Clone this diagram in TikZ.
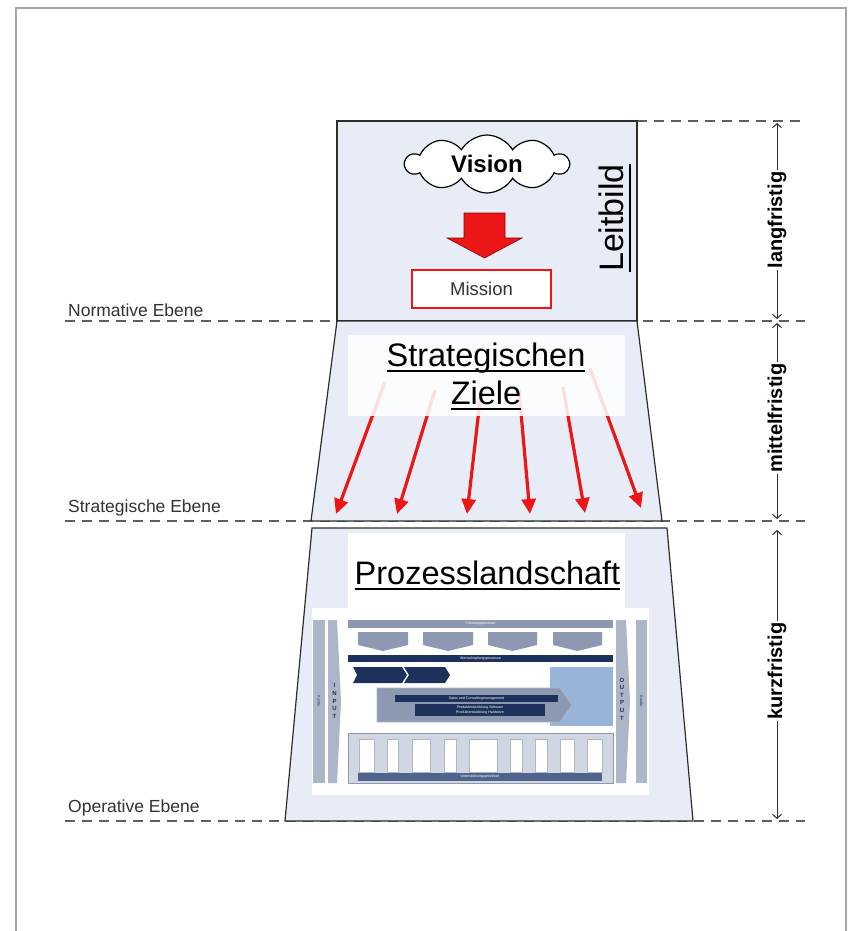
\documentclass[tikz,border=0pt]{standalone}
\usepackage{fontspec}
\setmainfont{Liberation Sans}
\usetikzlibrary{shapes.symbols,arrows.meta}

\definecolor{panel}{RGB}{232,236,246}
\definecolor{edge}{RGB}{45,45,45}
\definecolor{dashgray}{RGB}{95,95,95}
\definecolor{framegray}{RGB}{165,165,165}
\definecolor{txtgray}{RGB}{50,50,50}
\definecolor{arrowred}{RGB}{236,22,22}
\definecolor{plgray}{RGB}{172,182,200}
\definecolor{plgrayd}{RGB}{141,153,176}
\definecolor{plnavy}{RGB}{28,50,92}
\definecolor{plblue}{RGB}{152,180,216}
\definecolor{plsupport}{RGB}{208,214,226}
\definecolor{plbar}{RGB}{78,100,140}

% underline at a fixed distance below the baseline
\newcommand{\ulx}[2][3.5pt]{\setbox0\hbox{#2}\rlap{\vrule width\wd0 height -#1 depth \dimexpr#1+2pt\relax}\box0}

\tikzset{
  levelline/.style={dashgray, line width=1.8pt, dash pattern=on 10pt off 7pt},
  levelbox/.style={fill=panel, draw=edge, line width=1.2pt},
  levellabel/.style={anchor=base west, text=txtgray, font=\fontsize{17.5}{20}\selectfont, inner sep=0pt},
  termarrow/.style={draw=edge, line width=1pt, {Straight Barb[length=4pt,width=9pt]}-{Straight Barb[length=4pt,width=9pt]}},
  termlabel/.style={rotate=90, fill=white, inner sep=2pt, font=\fontsize{20}{24}\selectfont\bfseries},
  goalarrow/.style={arrowred, line width=3.2pt, -{Triangle[length=15pt,width=14pt]}},
  bigtitle/.style={anchor=base, inner sep=0pt, font=\fontsize{32.5}{38}\selectfont},
  tiny/.style={text=white, inner sep=0pt, font=\fontsize{3.6}{4.2}\selectfont, align=center},
  pbox/.style={fill=white, draw=plgray, line width=0.4pt},
  ioletters/.style={text=plnavy, inner sep=0pt, align=center, font=\fontsize{6}{7.6}\selectfont\bfseries},
}

\begin{document}
\begin{tikzpicture}[x=1pt, y=-1pt]
\useasboundingbox (0,0) rectangle (848,931);
\fill[white] (0,0) rectangle (848,931);

% page frame
\draw[framegray, line width=2pt] (16,931) -- (16,8) -- (846,8) -- (846,931);

% level separators
\draw[levelline] (637,121) -- (805,121);
\draw[levelline] (65,321) -- (805,321);
\draw[levelline] (65,521) -- (805,521);
\draw[levelline] (65,821) -- (805,821);

\node[levellabel] (normlbl) at (68,316) {Normative Ebene};
\node[levellabel] (stratlbl) at (68,512) {Strategische Ebene};
\node[levellabel] (oplbl) at (68,812) {Operative Ebene};

% ---------- normative level ----------
\draw[levelbox] (337,121) rectangle (637,321);
\node[cloud, cloud puffs=10, cloud puff arc=120, cloud ignores aspect, draw=black, line width=1.2pt, fill=white,
      minimum width=163pt, minimum height=58pt, inner sep=0pt,
      font=\fontsize{24}{28}\selectfont\bfseries] (vision) at (487,164) {Vision};
\draw[fill=arrowred, draw=red!55!black, line width=0.6pt]
  (464,213) -- (505,213) -- (505,238) -- (522,238) -- (484.5,258) -- (447,238) -- (464,238) -- cycle;
\node[draw=arrowred, line width=1.3pt, fill=white, minimum width=139pt, minimum height=38pt, inner sep=0pt,
      text=txtgray, font=\fontsize{18.5}{22}\selectfont] (mission) at (481.5,289) {Mission};
\node[rotate=90, anchor=base, inner sep=0pt, font=\fontsize{34}{38}\selectfont] (leitbild) at (623,218) {\ulx[5.5pt]{Leitbild}};

% ---------- strategic level ----------
\draw[levelbox] (337,321) -- (637,321) -- (662,521) -- (311,521) -- cycle;
\coordinate (g1s) at (385,382); \coordinate (g1e) at (336,514);
\coordinate (g2s) at (435,390); \coordinate (g2e) at (397,514);
\coordinate (g3s) at (481,392); \coordinate (g3e) at (467,514);
\coordinate (g4s) at (519,390); \coordinate (g4e) at (530,514);
\coordinate (g5s) at (563,387); \coordinate (g5e) at (585,513);
\coordinate (g6s) at (590,368); \coordinate (g6e) at (641,508);
\foreach \i in {1,...,6} \draw[goalarrow] (g\i s) -- (g\i e);
\fill[white, opacity=0.86] (348,335) rectangle (625,416);
\node[bigtitle] (strat1) at (486,366) {\ulx{Strategischen}};
\node[bigtitle] (strat2) at (486,404) {\ulx{Ziele}};

% ---------- operative level ----------
\draw[levelbox] (312,528) -- (667,528) -- (693,821) -- (285,821) -- cycle;
\fill[white] (348,533) rectangle (625,610);
\fill[white] (312,608) rectangle (649,795);
\node[bigtitle] (proz) at (487.5,584) {\ulx{Prozesslandschaft}};

% process landscape chart
\fill[plgray] (313,620) rectangle (325,783);
\fill[plgray] (328,620) -- (337,620) -- (341,701) -- (337,783) -- (328,783) -- cycle;
\fill[plgray] (616,620) -- (626,620) -- (630,701) -- (626,783) -- (616,783) -- cycle;
\fill[plgray] (636,620) rectangle (647,783);
\node[ioletters] (input) at (334.5,701) {I\\N\\P\\U\\T};
\node[ioletters] (output) at (622,699) {O\\U\\T\\P\\U\\T};
\node[rotate=-90, text=plnavy, inner sep=0pt, font=\fontsize{3.8}{4}\selectfont] (kl) at (319,701) {Kunde};
\node[rotate=-90, text=plnavy, inner sep=0pt, font=\fontsize{3.8}{4}\selectfont] (kr) at (641.5,701) {Kunde};

\fill[plgrayd] (348,620) rectangle (613,628);
\node[tiny] (fp) at (480.5,624) {Führungsprozesse};
\foreach \a/\b in {358/408, 423/473, 488/537, 553/602}
  \fill[plgrayd] (\a,632) -- (\b,632) -- (\b,645) -- ({(\a+\b)/2},651) -- (\a,645) -- cycle;

\fill[plnavy] (348,655) rectangle (613,662);
\node[tiny] (wp) at (480.5,658.5) {Wertschöpfungsprozesse};
\fill[plnavy] (353,667) -- (402,667) -- (407,675) -- (402,683) -- (353,683) -- (357,675) -- cycle;
\fill[plnavy] (404,667) -- (445,667) -- (450,675) -- (445,683) -- (404,683) -- (409,675) -- cycle;

\fill[plblue] (550,667) rectangle (613,726);
\draw[fill=plgrayd, draw=plgray, line width=0.6pt] (377,688) -- (560,688) -- (572,705) -- (560,722) -- (377,722) -- cycle;
\fill[plnavy] (395,695) rectangle (558,702);
\node[tiny] (sales) at (476.5,698.5) {Sales und Consultingmanagement};
\fill[plnavy] (415,704) rectangle (545,716);
\node[tiny] (pe) at (480,710) {Produktentwicklung Software\\Produktentwicklung Hardware};

\draw[fill=plsupport, draw=plgrayd, line width=0.5pt] (348,733) rectangle (613,783);
\foreach \a/\b in {359/374, 387/398, 412/430, 444/456, 469/497, 510/522, 535/547, 560/574, 587/602}
  \draw[pbox] (\a,739) rectangle (\b,772);
\fill[plbar] (358,773) rectangle (602,781);
\node[tiny] (up) at (480,777) {Unterstützungsprozesse};

% time horizons
\coordinate (t0) at (777,123);
\coordinate (t1) at (777,319);
\coordinate (t2) at (777,323);
\coordinate (t3) at (777,519);
\coordinate (t4) at (777,530);
\coordinate (t5) at (777,819);
\draw[termarrow] (t0) -- (t1);
\draw[termarrow] (t2) -- (t3);
\draw[termarrow] (t4) -- (t5);
\node[termlabel] (lang) at (777,220) {langfristig};
\node[termlabel] (mittel) at (777,418) {mittelfristig};
\node[termlabel] (kurz) at (777,671) {kurzfristig};
\end{tikzpicture}
\end{document}
